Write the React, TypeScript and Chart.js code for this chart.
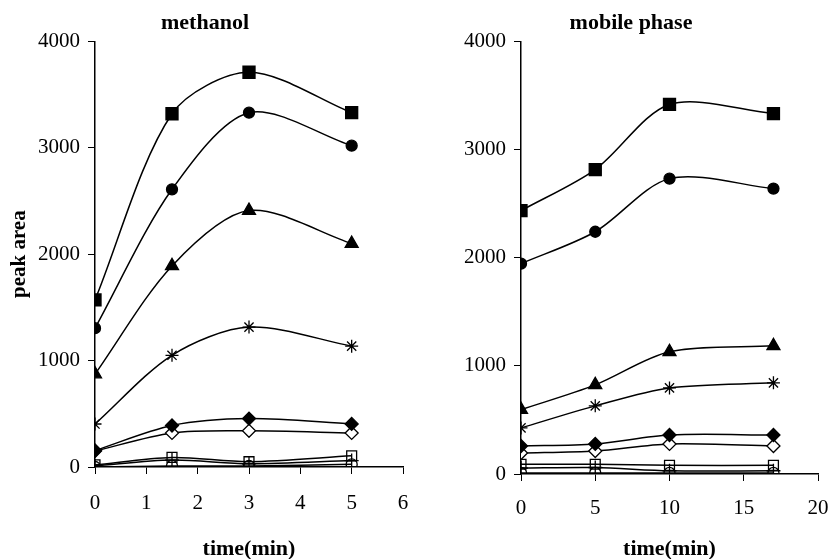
import React, { useEffect, useRef } from "react";
import { Chart, registerables } from "chart.js";

Chart.register(...registerables);

// ---- Data ----
const methanolTimes = [0, 1.5, 3, 5];
const mobileTimes = [0, 5, 10, 17];

const methanolSquare = [1570, 3320, 3710, 3330];
const methanolCircle = [1305, 2610, 3330, 3020];
const methanolTriangle = [873, 1890, 2410, 2100];
const methanolStar = [404, 1050, 1315, 1136];
const methanolDiamond = [155, 390, 455, 405];
const methanolOpenDiamond = [150, 320, 340, 320];
const methanolOpenSquare = [20, 90, 50, 105];
const methanolCross = [10, 65, 30, 60];
const methanolOpenCircle = [0, 10, 10, 25];

const mobileSquare = [2435, 2815, 3417, 3333];
const mobileCircle = [1945, 2240, 2731, 2639];
const mobileTriangle = [595, 824, 1130, 1185];
const mobileStar = [426, 630, 796, 843];
const mobileDiamond = [259, 278, 361, 361];
const mobileOpenDiamond = [194, 213, 278, 259];
const mobileOpenSquare = [90, 90, 80, 80];
const mobileCross = [55, 60, 30, 30];
const mobileOpenCircle = [10, 10, 10, 10];

const methanolSeries = [
  methanolSquare, methanolCircle, methanolTriangle, methanolStar, methanolDiamond,
  methanolOpenDiamond, methanolOpenSquare, methanolCross, methanolOpenCircle,
];
const mobileSeries = [
  mobileSquare, mobileCircle, mobileTriangle, mobileStar, mobileDiamond,
  mobileOpenDiamond, mobileOpenSquare, mobileCross, mobileOpenCircle,
];

const yTicks = [0, 1000, 2000, 3000, 4000];

// ---- Styles ----
const markerStyles = [
  { pointStyle: "rect", radius: 8.5, fill: "#000" },
  { pointStyle: "circle", radius: 5.5, fill: "#000" },
  { pointStyle: "triangle", radius: 7.5, fill: "#000" },
  { pointStyle: "star", radius: 6.5, fill: "#fff" },
  { pointStyle: "rectRot", radius: 6.5, fill: "#000" },
  { pointStyle: "rectRot", radius: 6.5, fill: "#fff" },
  { pointStyle: "rect", radius: 7, fill: "rgba(0,0,0,0)" },
  { pointStyle: "cross", radius: 7, fill: "#fff" },
  { pointStyle: "circle", radius: 5.5, fill: "rgba(0,0,0,0)" },
];

const SERIF = "'Liberation Serif', 'Times New Roman', serif";

function buildConfig(p: {
  times: number[];
  series: number[][];
  title: string;
  xMax: number;
  xStep: number;
  yTitle: string | null;
  padLeft: number;
  padRight: number;
  yWidth: number;
  xHeight: number;
  xLabelPad: number;
}): any {
  const datasets = p.series.map((vals, i) => {
    const st = markerStyles[i];
    return {
      data: p.times.map((t, j) => ({ x: t, y: vals[j] })),
      borderColor: "#000",
      borderWidth: 1.5,
      pointStyle: st.pointStyle,
      pointRadius: st.radius,
      pointBorderWidth: 1.3,
      pointBorderColor: "#000",
      pointBackgroundColor: st.fill,
      tension: 0.3,
      fill: false,
    };
  });
  return {
    type: "line",
    data: { datasets },
    options: {
      responsive: true,
      maintainAspectRatio: false,
      animation: false,
      events: [],
      layout: { padding: { left: p.padLeft, right: p.padRight, top: 0, bottom: 0 } },
      plugins: {
        legend: { display: false },
        tooltip: { enabled: false },
        title: {
          display: true,
          text: p.title,
          color: "#000",
          font: { family: SERIF, size: 22, weight: "bold" },
          padding: { top: 10, bottom: 5 },
        },
      },
      scales: {
        x: {
          type: "linear",
          min: 0,
          max: p.xMax,
          afterFit: (s: any) => {
            s.height = p.xHeight;
            s.paddingLeft = 0;
            s.paddingRight = 0;
          },
          ticks: {
            stepSize: p.xStep,
            color: "#000",
            font: { family: SERIF, size: 21 },
            padding: p.xLabelPad,
            maxRotation: 0,
            callback: (v: any) => String(v),
          },
          grid: {
            display: true,
            drawOnChartArea: false,
            drawTicks: true,
            tickLength: 7,
            color: "#000",
            lineWidth: 1,
          },
          border: { display: true, color: "#000", width: 1.5 },
          title: {
            display: true,
            text: "time(min)",
            color: "#000",
            font: { family: SERIF, size: 22, weight: "bold" },
            padding: { top: 0, bottom: -4 },
          },
        },
        y: {
          type: "linear",
          min: 0,
          max: 4000,
          afterFit: (s: any) => { s.width = p.yWidth; },
          afterBuildTicks: (s: any) => { s.ticks = yTicks.map((v) => ({ value: v })); },
          ticks: {
            color: "#000",
            font: { family: SERIF, size: 21 },
            padding: 8,
            callback: (v: any) => String(v),
          },
          grid: {
            display: true,
            drawOnChartArea: false,
            drawTicks: true,
            tickLength: 7,
            color: "#000",
            lineWidth: 1,
          },
          border: { display: true, color: "#000", width: 1.5 },
          title: {
            display: !!p.yTitle,
            text: p.yTitle || "",
            color: "#000",
            font: { family: SERIF, size: 21, weight: "bold" },
            padding: { top: 0, bottom: 0 },
          },
        },
      },
    },
  };
}

function Panel(props: { config: any; left: number }) {
  const ref = useRef<HTMLCanvasElement | null>(null);
  useEffect(() => {
    if (!ref.current) return;
    const chart = new Chart(ref.current, props.config);
    return () => chart.destroy();
  }, []);
  return (
    <div style={{ position: "absolute", left: props.left, top: 0, width: 416, height: 559 }}>
      <canvas ref={ref} />
    </div>
  );
}

export default function App() {
  useEffect(() => {
    document.body.style.margin = "0";
  }, []);
  const leftCfg = buildConfig({
    times: methanolTimes,
    series: methanolSeries,
    title: "methanol",
    xMax: 6,
    xStep: 1,
    yTitle: "peak area",
    padLeft: 7,
    padRight: 13,
    yWidth: 88,
    xHeight: 92,
    xLabelPad: 17,
  });
  const rightCfg = buildConfig({
    times: mobileTimes,
    series: mobileSeries,
    title: "mobile phase",
    xMax: 20,
    xStep: 5,
    yTitle: null,
    padLeft: 28,
    padRight: 14,
    yWidth: 77,
    xHeight: 85,
    xLabelPad: 15,
  });
  return (
    <div style={{ position: "relative", width: 832, height: 559, background: "#fff" }}>
      <Panel config={leftCfg} left={0} />
      <Panel config={rightCfg} left={416} />
    </div>
  );
}
